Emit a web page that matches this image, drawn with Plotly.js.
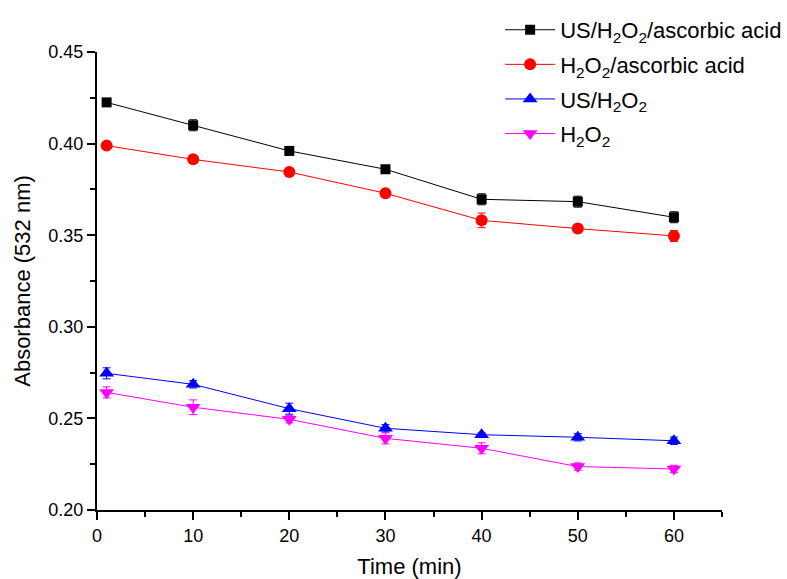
<!DOCTYPE html>
<html>
<head>
<meta charset="utf-8">
<script src="https://cdn.plot.ly/plotly-3.0.1.min.js"></script>
<style>html,body{margin:0;padding:0;background:#fff;}</style>
</head>
<body>
<div id="chart" style="width:787px;height:579px;"></div>
<script>
const time = [1, 10, 20, 30, 40, 50, 60];
const usH2O2Asc = [0.4225, 0.410, 0.396, 0.386, 0.3696, 0.3683, 0.3598];
const usH2O2AscErr = [0.001, 0.003, 0.001, 0.0015, 0.003, 0.003, 0.003];
const h2o2Asc = [0.3989, 0.3914, 0.3845, 0.3729, 0.3581, 0.3536, 0.3496];
const h2o2AscErr = [0.0015, 0.001, 0.001, 0.001, 0.004, 0.002, 0.003];
const usH2O2 = [0.2746, 0.2686, 0.2553, 0.2446, 0.2411, 0.2397, 0.2378];
const usH2O2Err = [0.003, 0.002, 0.003, 0.002, 0.001, 0.002, 0.002];
const h2o2 = [0.2642, 0.2561, 0.2495, 0.2391, 0.2337, 0.2237, 0.2224];
const h2o2Err = [0.003, 0.004, 0.002, 0.003, 0.003, 0.002, 0.002];
const names = ['US/H<sub>2</sub>O<sub>2</sub>/ascorbic acid', 'H<sub>2</sub>O<sub>2</sub>/ascorbic acid', 'US/H<sub>2</sub>O<sub>2</sub>', 'H<sub>2</sub>O<sub>2</sub>'];

function tr(y, err, name, color, symbol, size, grp) {
  return {
    x: time, y: y, name: name, type: 'scatter', mode: 'lines+markers', legendgroup: grp,
    line: {color: color, width: 1},
    marker: {color: color, symbol: symbol, size: size},
    error_y: {type: 'data', array: err, visible: true, color: color, thickness: 1, width: 4}
  };
}
const data = [
  tr(usH2O2Asc, usH2O2AscErr, names[0], '#000000', 'square', 10, 'g1'),
  tr(h2o2Asc, h2o2AscErr, names[1], '#ff0000', 'circle', 12, 'g2'),
  tr(usH2O2, usH2O2Err, names[2], '#0000ff', 'triangle-up', 13, 'g3'),
  tr(h2o2, h2o2Err, names[3], '#ff00ff', 'triangle-down', 13, 'g4')
];
const fontFam = 'Liberation Sans, Arial, sans-serif';
const layout = {
  width: 787, height: 579,
  margin: {l: 97, r: 65, t: 52, b: 69, autoexpand: false},
  paper_bgcolor: '#ffffff', plot_bgcolor: '#ffffff',
  font: {family: fontFam, color: '#000', size: 18},
  showlegend: true,
  legend: {x: 0.645, y: 1.094, xanchor: 'left', yanchor: 'top', bgcolor: 'rgba(0,0,0,0)',
    font: {size: 22, family: fontFam}, tracegroupgap: 3, itemwidth: 50},
  xaxis: {
    range: [0, 65], tickvals: [0, 10, 20, 30, 40, 50, 60],
    ticks: 'outside', ticklen: 8, tickwidth: 2, tickcolor: '#000',
    minor: {tickvals: [5, 15, 25, 35, 45, 55, 65], ticks: 'outside', ticklen: 5, tickwidth: 2, tickcolor: '#000'},
    showline: true, linecolor: '#000', linewidth: 2, showgrid: false, zeroline: false,
    tickfont: {size: 18}, title: {text: 'Time (min)', font: {size: 22}, standoff: 14}
  },
  yaxis: {
    range: [0.20, 0.45], tickvals: [0.20, 0.25, 0.30, 0.35, 0.40, 0.45], tickformat: '.2f',
    ticks: 'outside', ticklen: 8, tickwidth: 2, tickcolor: '#000',
    minor: {tickvals: [0.225, 0.275, 0.325, 0.375, 0.425], ticks: 'outside', ticklen: 5, tickwidth: 2, tickcolor: '#000'},
    showline: true, linecolor: '#000', linewidth: 2, showgrid: false, zeroline: false,
    tickfont: {size: 18}, title: {text: 'Absorbance (532 nm)', font: {size: 22}, standoff: 12}
  }
};
Plotly.newPlot('chart', data, layout, {displayModeBar: false});
</script>
</body>
</html>
